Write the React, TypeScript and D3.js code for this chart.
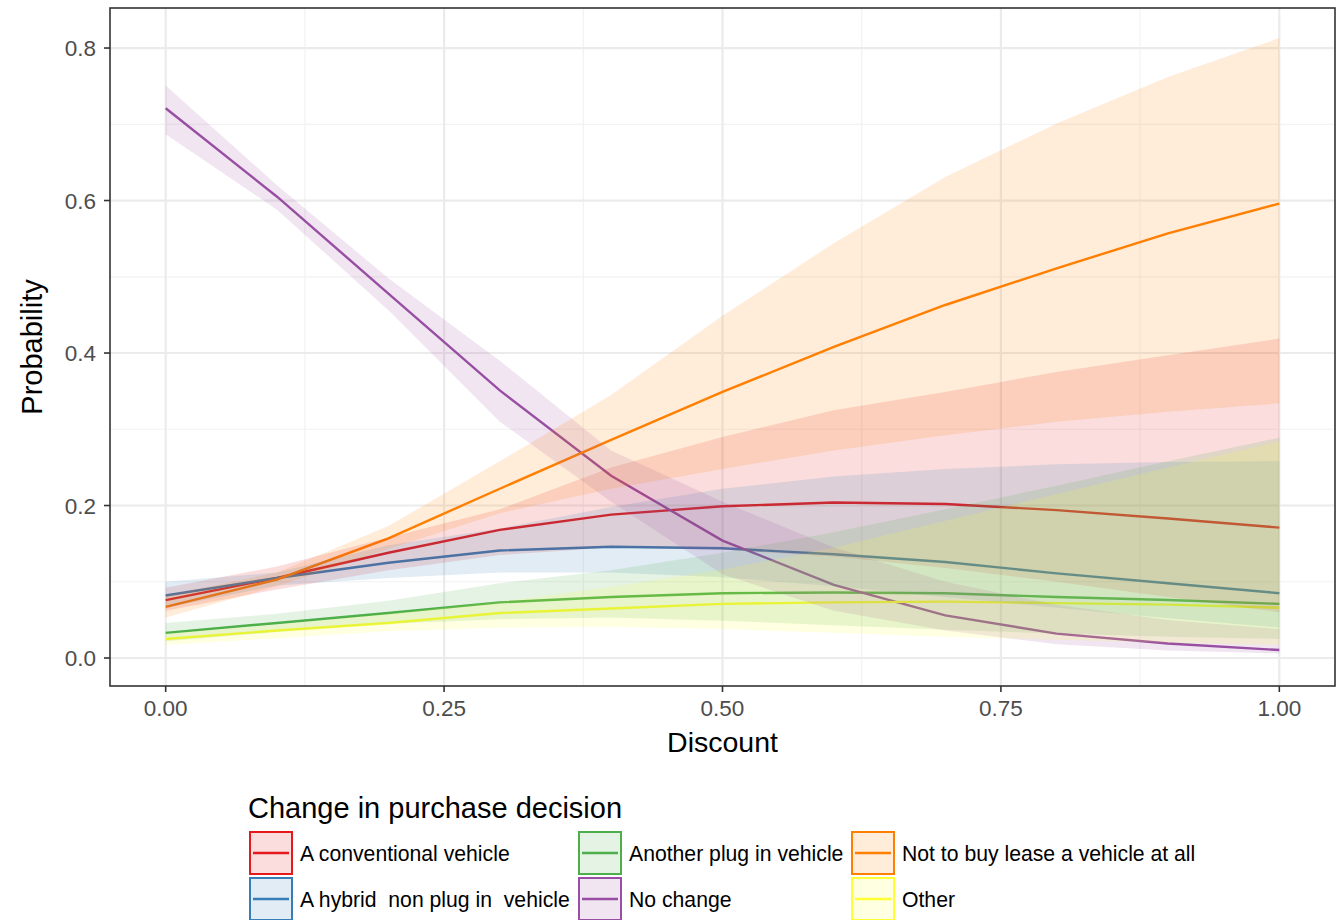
import * as React from 'react'
import * as d3 from 'd3'

// discount levels on the x axis
const discount = [0, 0.1, 0.2, 0.3, 0.4, 0.5, 0.6, 0.7, 0.8, 0.9, 1.0]

const conventionalMean = [0.076, 0.105, 0.138, 0.168, 0.188, 0.199, 0.204, 0.202, 0.194, 0.183, 0.171]
const conventionalLow = [0.062, 0.09, 0.115, 0.135, 0.145, 0.142, 0.133, 0.118, 0.1, 0.08, 0.06]
const conventionalHigh = [0.092, 0.12, 0.158, 0.195, 0.25, 0.29, 0.325, 0.349, 0.375, 0.397, 0.419]

const hybridMean = [0.082, 0.105, 0.125, 0.141, 0.146, 0.144, 0.136, 0.126, 0.111, 0.098, 0.085]
const hybridLow = [0.066, 0.095, 0.105, 0.112, 0.112, 0.106, 0.094, 0.08, 0.066, 0.052, 0.04]
const hybridHigh = [0.1, 0.112, 0.148, 0.17, 0.198, 0.222, 0.238, 0.248, 0.254, 0.257, 0.258]

const plugMean = [0.033, 0.046, 0.059, 0.073, 0.08, 0.085, 0.086, 0.085, 0.08, 0.076, 0.071]
const plugLow = [0.022, 0.034, 0.045, 0.051, 0.053, 0.049, 0.043, 0.037, 0.032, 0.028, 0.025]
const plugHigh = [0.046, 0.058, 0.075, 0.098, 0.115, 0.138, 0.165, 0.195, 0.226, 0.258, 0.289]

const noChangeMean = [0.721, 0.605, 0.478, 0.351, 0.239, 0.154, 0.096, 0.056, 0.032, 0.019, 0.0105]
const noChangeLow = [0.687, 0.588, 0.456, 0.31, 0.205, 0.11, 0.062, 0.036, 0.018, 0.01, 0.006]
const noChangeHigh = [0.751, 0.62, 0.498, 0.39, 0.272, 0.205, 0.145, 0.1, 0.07, 0.05, 0.038]

const notBuyMean = [0.067, 0.103, 0.157, 0.222, 0.286, 0.349, 0.408, 0.463, 0.511, 0.557, 0.596]
const notBuyLow = [0.053, 0.094, 0.143, 0.19, 0.222, 0.248, 0.272, 0.292, 0.31, 0.323, 0.334]
const notBuyHigh = [0.082, 0.112, 0.173, 0.258, 0.345, 0.449, 0.544, 0.631, 0.701, 0.762, 0.813]

const otherMean = [0.025, 0.036, 0.046, 0.059, 0.065, 0.071, 0.073, 0.074, 0.072, 0.07, 0.066]
const otherLow = [0.017, 0.026, 0.035, 0.04, 0.041, 0.038, 0.033, 0.028, 0.024, 0.02, 0.017]
const otherHigh = [0.032, 0.044, 0.058, 0.074, 0.093, 0.116, 0.145, 0.18, 0.215, 0.25, 0.284]

const categories = [
    'A conventional vehicle',
    'A hybrid  non plug in  vehicle',
    'Another plug in vehicle',
    'No change',
    'Not to buy lease a vehicle at all',
    'Other',
]
const colors = ['#e41a1c', '#377eb8', '#4daf4a', '#984ea3', '#ff7f00', '#ffff33']

const xTicks = [0, 0.25, 0.5, 0.75, 1]
const xMinor = [0.125, 0.375, 0.625, 0.875]
const yTicks = [0, 0.2, 0.4, 0.6, 0.8]
const yMinor = [0.1, 0.3, 0.5, 0.7]

const series = [
    { mean: conventionalMean, low: conventionalLow, high: conventionalHigh },
    { mean: hybridMean, low: hybridLow, high: hybridHigh },
    { mean: plugMean, low: plugLow, high: plugHigh },
    { mean: noChangeMean, low: noChangeLow, high: noChangeHigh },
    { mean: notBuyMean, low: notBuyLow, high: notBuyHigh },
    { mean: otherMean, low: otherLow, high: otherHigh },
]

export default function App() {
    const FONT = '"Liberation Sans", Arial, Helvetica, sans-serif'
    const left = 110, right = 1335, top = 8, bottom = 686

    const x = d3.scaleLinear().domain([-0.05, 1.05]).range([left, right])
    const y = d3.scaleLinear().domain([-0.0367, 0.8525]).range([bottom, top])

    const line = (vals: number[]) =>
        d3.line<number>().x((_, i) => x(discount[i])).y(d => y(d))(vals)
    const area = (lo: number[], hi: number[]) =>
        d3.area<number>().x((_, i) => x(discount[i])).y0((_, i) => y(lo[i])).y1((_, i) => y(hi[i]))(lo)

    // legend: filled column-wise, 2 rows
    const legendCols = [249, 578, 851]
    const legendRows = [831, 877]
    const KEY = 44

    return <svg width={1340} height={920} style={{ position: 'absolute', left: 0, top: 0, fontFamily: FONT }}>
        <rect width={1340} height={920} fill="#fff" />

        {/* grid */}
        {xMinor.map(t => <line key={'xm' + t} x1={x(t)} x2={x(t)} y1={top} y2={bottom} stroke="#f2f2f2" strokeWidth={1.2} />)}
        {yMinor.map(t => <line key={'ym' + t} y1={y(t)} y2={y(t)} x1={left} x2={right} stroke="#f2f2f2" strokeWidth={1.2} />)}
        {xTicks.map(t => <line key={'xg' + t} x1={x(t)} x2={x(t)} y1={top} y2={bottom} stroke="#ebebeb" strokeWidth={2.2} />)}
        {yTicks.map(t => <line key={'yg' + t} y1={y(t)} y2={y(t)} x1={left} x2={right} stroke="#ebebeb" strokeWidth={2.2} />)}

        {/* lines below ribbons, as in the original layer order */}
        {series.map((s, i) =>
            <path key={'l' + i} d={line(s.mean) as string} fill="none" stroke={colors[i]} strokeWidth={2.4} />
        )}
        {series.map((s, i) =>
            <path key={'a' + i} d={area(s.low, s.high) as string} fill={colors[i]} fillOpacity={0.15} stroke="none" />
        )}

        <rect x={left} y={top} width={right - left} height={bottom - top} fill="none" stroke="#333" strokeWidth={1.6} />

        {/* x axis */}
        {xTicks.map(t =>
            <g key={'xt' + t}>
                <line x1={x(t)} x2={x(t)} y1={bottom} y2={bottom + 6} stroke="#333" strokeWidth={1.6} />
                <text x={x(t)} y={716} textAnchor="middle" fontSize={22.5} fill="#4d4d4d">{t.toFixed(2)}</text>
            </g>
        )}
        <text x={(left + right) / 2} y={752} textAnchor="middle" fontSize={28.5} fill="#000">Discount</text>

        {/* y axis */}
        {yTicks.map(t =>
            <g key={'yt' + t}>
                <line x1={left - 6} x2={left} y1={y(t)} y2={y(t)} stroke="#333" strokeWidth={1.6} />
                <text x={96} y={y(t) + 8} textAnchor="end" fontSize={22.5} fill="#4d4d4d">{t.toFixed(1)}</text>
            </g>
        )}
        <text transform={`translate(42 ${(top + bottom) / 2}) rotate(-90)`} textAnchor="middle" fontSize={29} fill="#000">Probability</text>

        {/* legend */}
        <text x={248} y={818} fontSize={29} fill="#000">Change in purchase decision</text>
        {categories.map((c, i) => {
            const kx = legendCols[Math.floor(i / 2)]
            const ky = legendRows[i % 2]
            return <g key={'lg' + i}>
                <rect x={kx + 1} y={ky + 1} width={KEY - 2} height={KEY - 2} fill="#fff" />
                <rect x={kx + 1} y={ky + 1} width={KEY - 2} height={KEY - 2} fill={colors[i]} fillOpacity={0.15} stroke={colors[i]} strokeWidth={2} />
                <line x1={kx + 4} x2={kx + KEY - 4} y1={ky + KEY / 2} y2={ky + KEY / 2} stroke={colors[i]} strokeWidth={2.4} />
                <text x={kx + 51} y={ky + KEY / 2 + 7.5} fontSize={21.2} fill="#000" style={{ whiteSpace: 'pre' }}>{c}</text>
            </g>
        })}
    </svg>
}
